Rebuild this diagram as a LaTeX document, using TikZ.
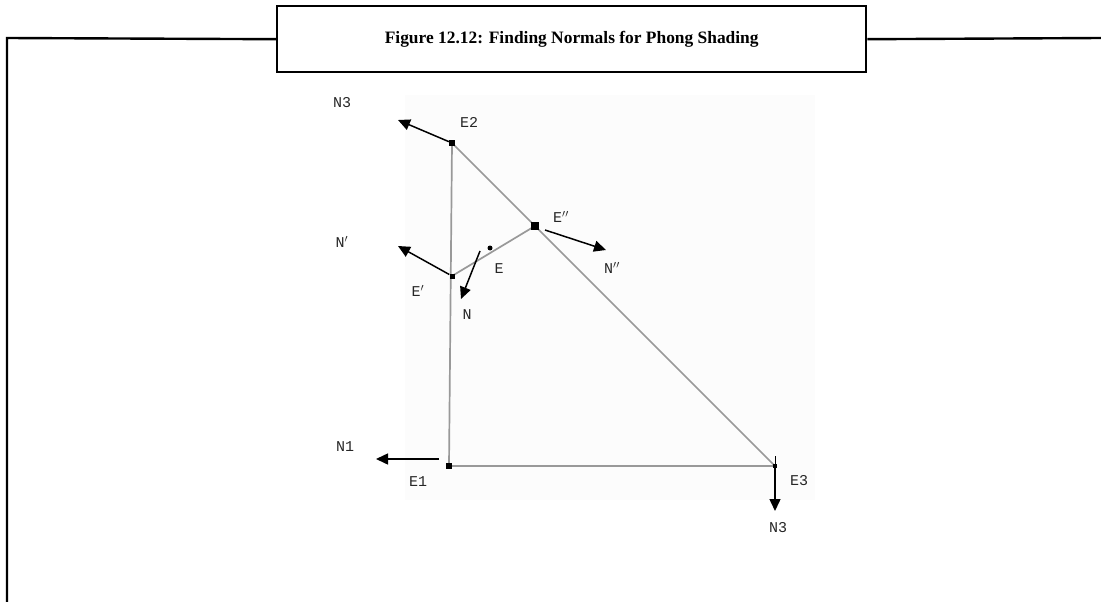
\documentclass[tikz,border=0pt]{standalone}
\usepackage{fontspec}
\setmainfont{Liberation Serif}
\newfontfamily\lblfont{Liberation Mono}
\usetikzlibrary{arrows.meta}
\begin{document}
\begin{tikzpicture}[x=1pt,y=-1pt,
  frame/.style={line width=2.4pt,black},
  edge/.style={line width=1.7pt,gray!80},
  normal/.style={line width=1.5pt,black,-{Triangle[length=12pt,width=11pt]}},
  lbl/.style={font=\lblfont\fontsize{15}{15}\selectfont,inner sep=0pt,text=black!85},
  vtx/.style={fill=black,minimum size=6pt,inner sep=0pt,rectangle}]
\useasboundingbox (0,0) rectangle (1101,602);
% frame
\node[frame,draw,minimum width=589pt,minimum height=66pt,inner sep=0pt,anchor=north west] (title) at (276,5)
  {\fontsize{17.4}{17.4}\selectfont\bfseries Figure 12.12: Finding Normals for Phong Shading};
\coordinate (fl) at (7,38);
\coordinate (fb) at (7,602);
\coordinate (fr) at (1101,38);
\draw[frame] (fb) -- (fl) -- (title.west);
\draw[frame] (title.east) -- (fr);
% faint background
\fill[black!1] (405,95) rectangle (815,500);
% vertices
\coordinate (E2) at (452,143);
\coordinate (E1) at (449,466);
\coordinate (E3) at (775,466);
\coordinate (Ep) at (452,276);
\coordinate (Epp) at (535,226);
\draw[edge] (E2) -- (E1) -- (E3) -- (E2);
\draw[edge] (Ep) -- (Epp);
\node[vtx] (v2) at (E2) {};
\node[vtx] (v1) at (E1) {};
\node[vtx,minimum size=4pt] (v3) at (E3) {};
\node[vtx,minimum size=5pt] (vp) at (Ep) {};
\node[vtx,minimum size=8pt] (vpp) at (Epp) {};
\node[circle,fill=black,minimum size=5pt,inner sep=0pt] (E) at (490,248) {};
\draw[line width=1pt] (775,456) -- (E3);
% normals
\coordinate (n3a) at (398,120);
\coordinate (npa) at (398,246);
\coordinate (nst) at (480,251);
\coordinate (nen) at (461,299);
\coordinate (nppst) at (545,230);
\coordinate (nppen) at (606,250);
\coordinate (n1st) at (439,459);
\coordinate (n1en) at (376,459);
\coordinate (n3bst) at (775,468);
\coordinate (n3ben) at (775,511);
\draw[normal] (v2) -- (n3a);
\draw[normal] (vp) -- (npa);
\draw[normal] (nst) -- (nen);
\draw[normal] (nppst) -- (nppen);
\draw[normal] (n1st) -- (n1en);
\draw[normal] (n3bst) -- (n3ben);
% labels
\node[lbl] (lN3a) at (342,103) {N3};
\node[lbl] (lE2) at (469,122) {E2};
\node[lbl] (lNp) at (342,242) {N$'$};
\node[lbl] (lEp) at (418,291) {E$'$};
\node[lbl] (lE) at (499,269) {E};
\node[lbl] (lN) at (467,315) {N};
\node[lbl] (lEpp) at (561,217) {E$''$};
\node[lbl] (lNpp) at (612,268) {N$''$};
\node[lbl] (lN1) at (345,447) {N1};
\node[lbl] (lE1) at (418,482) {E1};
\node[lbl] (lE3) at (799,481) {E3};
\node[lbl] (lN3b) at (778,528) {N3};
\end{tikzpicture}
\end{document}
